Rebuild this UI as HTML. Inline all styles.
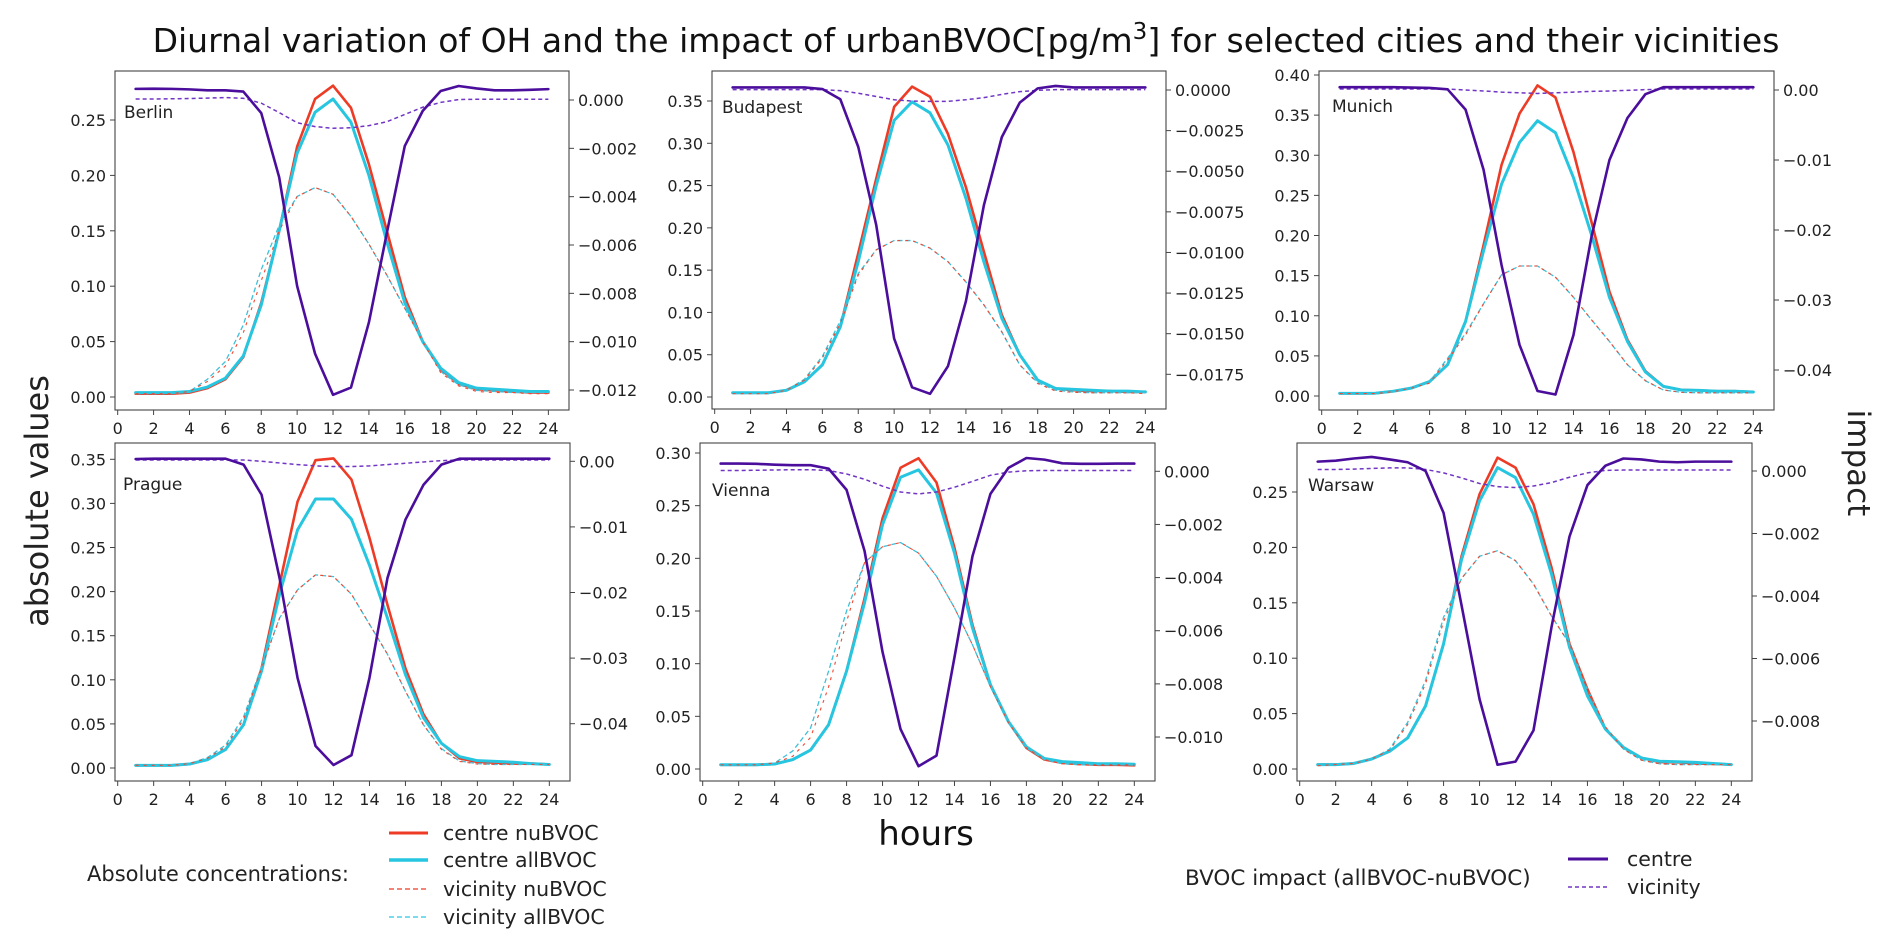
<!DOCTYPE html>
<html><head><meta charset="utf-8">
<style>
html,body{margin:0;padding:0;background:#fff;}
svg{display:block;font-family:"DejaVu Sans","Liberation Sans",sans-serif;}
</style></head>
<body>
<svg id="fig" width="1892" height="946" viewBox="0 0 1892 946" xmlns="http://www.w3.org/2000/svg">
<rect width="1892" height="946" fill="#fff"/>
<text x="966" y="52" font-size="33" text-anchor="middle" fill="#111">Diurnal variation of OH and the impact of urbanBVOC[pg/m<tspan font-size="23" dy="-13">3</tspan><tspan dy="13">]</tspan> for selected cities and their vicinities</text>
<text x="0" y="0" font-size="32" text-anchor="middle" fill="#222" transform="translate(48,501) rotate(-90)">absolute values</text>
<text x="0" y="0" font-size="31" text-anchor="middle" fill="#222" transform="translate(1848,463) rotate(90)">impact</text>
<text x="926" y="845" font-size="34" text-anchor="middle" fill="#111">hours</text>
<g id="panels"></g>
<g>
<text x="87" y="881" font-size="21" fill="#222">Absolute concentrations:</text>
<line x1="389" y1="833" x2="428" y2="833" stroke="#ee3b26" stroke-width="3"/>
<text x="443" y="840" font-size="20.5" fill="#222">centre nuBVOC</text>
<line x1="389" y1="860" x2="428" y2="860" stroke="#27c6e0" stroke-width="3.5"/>
<text x="443" y="867" font-size="20.5" fill="#222">centre allBVOC</text>
<line x1="389" y1="889" x2="428" y2="889" stroke="#ee3b26" stroke-width="1.3" stroke-dasharray="5,3"/>
<text x="443" y="896" font-size="20.5" fill="#222">vicinity nuBVOC</text>
<line x1="389" y1="917" x2="428" y2="917" stroke="#27c6e0" stroke-width="1.3" stroke-dasharray="5,3"/>
<text x="443" y="924" font-size="20.5" fill="#222">vicinity allBVOC</text>
</g>
<g>
<text x="1185" y="885" font-size="21.5" fill="#222">BVOC impact (allBVOC-nuBVOC)</text>
<line x1="1568" y1="859" x2="1608" y2="859" stroke="#4b0e9c" stroke-width="3"/>
<text x="1627" y="866" font-size="20.5" fill="#222">centre</text>
<line x1="1568" y1="887" x2="1608" y2="887" stroke="#7035c4" stroke-width="1.6" stroke-dasharray="4,3"/>
<text x="1627" y="894" font-size="20.5" fill="#222">vicinity</text>
</g>
</svg>
<script>
const hours=[1,2,3,4,5,6,7,8,9,10,11,12,13,14,15,16,17,18,19,20,21,22,23,24];
const xTicks=[0,2,4,6,8,10,12,14,16,18,20,22,24];

const berlinCentreNu=[0.003,0.003,0.003,0.004,0.008,0.016,0.036,0.085,0.15,0.226,0.269,0.281,0.261,0.21,0.15,0.09,0.05,0.025,0.012,0.007,0.006,0.005,0.004,0.004];
const berlinCentreAll=[0.004,0.004,0.004,0.005,0.009,0.017,0.037,0.083,0.15,0.22,0.257,0.269,0.248,0.2,0.14,0.085,0.05,0.026,0.013,0.008,0.007,0.006,0.005,0.005];
const berlinVicNu=[0.003,0.003,0.003,0.005,0.014,0.028,0.058,0.105,0.15,0.181,0.189,0.183,0.163,0.138,0.11,0.08,0.05,0.022,0.01,0.005,0.004,0.004,0.003,0.003];
const berlinVicAll=[0.003,0.003,0.003,0.005,0.016,0.032,0.065,0.115,0.155,0.181,0.189,0.183,0.163,0.138,0.11,0.08,0.05,0.023,0.011,0.006,0.005,0.004,0.004,0.004];
const berlinImpC=[0.00046,0.00047,0.00046,0.00044,0.0004,0.0004,0.00035,-0.00054,-0.0032,-0.0077,-0.0105,-0.0122,-0.0119,-0.0092,-0.0055,-0.0019,-0.00045,0.00037,0.00058,0.00048,0.0004,0.0004,0.00042,0.00045];
const berlinImpV=[0.00004,0.00004,0.00005,0.00006,0.00008,0.0001,0.00007,-0.00013,-0.00052,-0.00094,-0.0011,-0.00117,-0.00115,-0.00106,-0.0009,-0.0006,-0.0003,-0.0001,0.00002,0.00003,0.00003,0.00003,0.00003,0.00003];
const berlinLeftTicks=[0,0.05,0.1,0.15,0.2,0.25];
const berlinRightTicks=[0,-0.002,-0.004,-0.006,-0.008,-0.01,-0.012];

const budapestCentreNu=[0.005,0.005,0.005,0.008,0.018,0.038,0.083,0.17,0.258,0.343,0.367,0.355,0.311,0.248,0.172,0.097,0.05,0.02,0.01,0.008,0.007,0.007,0.006,0.006];
const budapestCentreAll=[0.005,0.005,0.005,0.008,0.018,0.038,0.083,0.16,0.25,0.327,0.349,0.336,0.298,0.235,0.16,0.093,0.05,0.02,0.01,0.009,0.008,0.007,0.007,0.006];
const budapestVicNu=[0.004,0.004,0.004,0.008,0.02,0.046,0.087,0.144,0.174,0.185,0.185,0.176,0.16,0.136,0.109,0.077,0.038,0.016,0.007,0.0055,0.005,0.005,0.005,0.004];
const budapestVicAll=[0.004,0.004,0.004,0.008,0.021,0.048,0.09,0.146,0.174,0.185,0.185,0.176,0.16,0.136,0.109,0.077,0.038,0.017,0.008,0.006,0.005,0.005,0.005,0.005];
const budapestImpC=[0.00016,0.00016,0.00016,0.00016,0.00016,0.00006,-0.00057,-0.0035,-0.0083,-0.0153,-0.0183,-0.0187,-0.017,-0.013,-0.0071,-0.0029,-0.00078,0.0001,0.00025,0.00016,0.00016,0.00016,0.00016,0.00016];
const budapestImpV=[0.00002,0.00002,0.00002,0.00002,0.00002,0.00002,-0.00004,-0.0002,-0.0004,-0.0006,-0.00068,-0.0007,-0.0007,-0.0006,-0.00047,-0.00027,-0.0001,-0.00002,0.00002,0.00002,0.00002,0.00002,0.00002,0.00002];
const budapestLeftTicks=[0,0.05,0.1,0.15,0.2,0.25,0.3,0.35];
const budapestRightTicks=[0,-0.0025,-0.005,-0.0075,-0.01,-0.0125,-0.015,-0.0175];

const munichCentreNu=[0.0033,0.0033,0.0035,0.006,0.01,0.018,0.039,0.093,0.188,0.288,0.352,0.387,0.372,0.304,0.217,0.13,0.07,0.031,0.012,0.0075,0.007,0.006,0.006,0.005];
const munichCentreAll=[0.0033,0.0033,0.0035,0.006,0.01,0.018,0.039,0.093,0.181,0.264,0.316,0.343,0.328,0.272,0.201,0.123,0.068,0.03,0.012,0.0075,0.007,0.006,0.006,0.005];
const munichVicNu=[0.003,0.003,0.003,0.0055,0.01,0.016,0.045,0.076,0.115,0.151,0.162,0.162,0.148,0.123,0.095,0.068,0.039,0.019,0.0075,0.0046,0.004,0.004,0.004,0.004];
const munichVicAll=[0.003,0.003,0.003,0.0055,0.011,0.018,0.047,0.078,0.115,0.151,0.162,0.162,0.148,0.123,0.095,0.068,0.039,0.019,0.0075,0.0046,0.004,0.004,0.004,0.004];
const munichImpC=[0.0004,0.0004,0.0004,0.0004,0.00035,0.0003,0.0001,-0.0028,-0.0114,-0.025,-0.0364,-0.043,-0.0435,-0.035,-0.021,-0.01,-0.004,-0.0006,0.0004,0.0004,0.0004,0.0004,0.0004,0.0004];
const munichImpV=[0.00014,0.00014,0.00014,0.00014,0.00014,0.00014,0.00014,0,-0.00014,-0.0003,-0.0004,-0.0005,-0.0004,-0.0003,-0.0002,-0.00014,-0.00005,0.00005,0.00014,0.00014,0.00014,0.00014,0.00014,0.00014];
const munichLeftTicks=[0,0.05,0.1,0.15,0.2,0.25,0.3,0.35,0.4];
const munichRightTicks=[0,-0.01,-0.02,-0.03,-0.04];

const pragueCentreNu=[0.003,0.003,0.003,0.0045,0.0095,0.021,0.049,0.113,0.208,0.302,0.349,0.351,0.327,0.261,0.185,0.113,0.061,0.028,0.011,0.0068,0.006,0.005,0.005,0.004];
const pragueCentreAll=[0.003,0.003,0.003,0.0045,0.0095,0.021,0.049,0.11,0.197,0.27,0.305,0.305,0.282,0.23,0.17,0.106,0.057,0.028,0.013,0.0083,0.0075,0.0065,0.005,0.004];
const pragueVicNu=[0.003,0.003,0.003,0.005,0.011,0.024,0.055,0.113,0.17,0.202,0.219,0.217,0.197,0.163,0.129,0.087,0.049,0.021,0.0075,0.0045,0.004,0.004,0.004,0.004];
const pragueVicAll=[0.003,0.003,0.003,0.005,0.012,0.026,0.058,0.115,0.17,0.202,0.219,0.217,0.197,0.163,0.129,0.087,0.049,0.022,0.008,0.005,0.004,0.004,0.004,0.004];
const pragueImpC=[0.00035,0.0004,0.0004,0.0004,0.0004,0.0004,-0.0005,-0.0051,-0.0178,-0.033,-0.0434,-0.0463,-0.0448,-0.033,-0.0178,-0.0089,-0.0036,-0.0005,0.0004,0.0004,0.0004,0.0004,0.0004,0.0004];
const pragueImpV=[0.0002,0.0002,0.0002,0.0002,0.0002,0.0002,0.0002,0,-0.00025,-0.0005,-0.0007,-0.0008,-0.0008,-0.0007,-0.0005,-0.0003,-0.0001,0.0001,0.0002,0.0002,0.0002,0.0002,0.0002,0.0002];
const pragueLeftTicks=[0,0.05,0.1,0.15,0.2,0.25,0.3,0.35];
const pragueRightTicks=[0,-0.01,-0.02,-0.03,-0.04];

const viennaCentreNu=[0.004,0.004,0.004,0.0047,0.0089,0.018,0.042,0.093,0.162,0.238,0.286,0.295,0.272,0.21,0.137,0.08,0.045,0.02,0.009,0.0057,0.0047,0.004,0.004,0.0035];
const viennaCentreAll=[0.004,0.004,0.004,0.0047,0.0089,0.018,0.042,0.093,0.158,0.232,0.277,0.284,0.262,0.205,0.134,0.08,0.045,0.021,0.01,0.007,0.006,0.005,0.005,0.0045];
const viennaVicNu=[0.004,0.004,0.004,0.0057,0.012,0.03,0.078,0.14,0.196,0.211,0.215,0.205,0.183,0.153,0.118,0.078,0.044,0.02,0.009,0.005,0.004,0.004,0.004,0.004];
const viennaVicAll=[0.004,0.004,0.004,0.0057,0.017,0.039,0.093,0.15,0.196,0.211,0.215,0.205,0.183,0.153,0.118,0.078,0.044,0.021,0.009,0.005,0.004,0.004,0.004,0.004];
const viennaImpC=[0.00029,0.00029,0.00028,0.00025,0.00023,0.00023,0.0001,-0.0007,-0.003,-0.0068,-0.0097,-0.0111,-0.0107,-0.007,-0.0032,-0.00085,0.00013,0.0005,0.00044,0.0003,0.00028,0.00028,0.00029,0.00029];
const viennaImpV=[0.00003,0.00003,0.00004,0.00005,0.00006,0.00006,0.00003,-0.0001,-0.0003,-0.00056,-0.00078,-0.00085,-0.00078,-0.0006,-0.00038,-0.00015,-0.00003,0.00002,0.00003,0.00003,0.00003,0.00003,0.00003,0.00003];
const viennaLeftTicks=[0,0.05,0.1,0.15,0.2,0.25,0.3];
const viennaRightTicks=[0,-0.002,-0.004,-0.006,-0.008,-0.01];

const warsawCentreNu=[0.004,0.004,0.005,0.009,0.016,0.028,0.057,0.113,0.192,0.248,0.281,0.272,0.239,0.182,0.113,0.072,0.036,0.0195,0.01,0.0063,0.006,0.005,0.0045,0.004];
const warsawCentreAll=[0.004,0.004,0.005,0.009,0.016,0.028,0.057,0.113,0.189,0.242,0.272,0.263,0.23,0.176,0.11,0.066,0.036,0.0195,0.01,0.007,0.0065,0.006,0.005,0.004];
const warsawVicNu=[0.003,0.004,0.005,0.009,0.017,0.04,0.077,0.133,0.172,0.192,0.197,0.188,0.167,0.138,0.113,0.072,0.038,0.018,0.008,0.0047,0.004,0.004,0.004,0.004];
const warsawVicAll=[0.003,0.004,0.005,0.009,0.018,0.042,0.08,0.137,0.172,0.192,0.197,0.188,0.167,0.138,0.113,0.072,0.038,0.018,0.008,0.0047,0.004,0.004,0.004,0.004];
const warsawImpC=[0.0003,0.00033,0.0004,0.00045,0.00037,0.00028,0,-0.00134,-0.0043,-0.0073,-0.0094,-0.0093,-0.0083,-0.005,-0.0021,-0.00045,0.00017,0.0004,0.00037,0.0003,0.00028,0.0003,0.0003,0.0003];
const warsawImpV=[0.00005,0.00005,0.00006,0.00008,0.0001,0.0001,0.00005,-0.00006,-0.00022,-0.0004,-0.0005,-0.00053,-0.00048,-0.00037,-0.0002,-0.00006,0.00002,0.00003,0.00003,0.00003,0.00003,0.00003,0.00003,0.00003];
const warsawLeftTicks=[0,0.05,0.1,0.15,0.2,0.25];
const warsawRightTicks=[0,-0.002,-0.004,-0.006,-0.008];

const NS='http://www.w3.org/2000/svg';
const root=document.getElementById('panels');
function mk(tag,attrs,parent){const e=document.createElementNS(NS,tag);for(const k in attrs)e.setAttribute(k,attrs[k]);parent.appendChild(e);return e;}
function fmt(v,d){const s=Math.abs(v).toFixed(d);return (v<-1e-12?'\u2212':'')+s;}

const panels=[
 {key:'berlin',name:'Berlin',x0:115,x1:569,y0:71,y1:410,L:[0,397,0.25,120],R:[0,100,-0.012,390],ld:2,rd:3,lab:[124,118],
  cn:berlinCentreNu,ca:berlinCentreAll,vn:berlinVicNu,va:berlinVicAll,ic:berlinImpC,iv:berlinImpV,lt:berlinLeftTicks,rt:berlinRightTicks},
 {key:'budapest',name:'Budapest',x0:712,x1:1166,y0:71,y1:409,L:[0,397,0.35,101],R:[0,90,-0.0175,374.3],ld:2,rd:4,lab:[722,113],
  cn:budapestCentreNu,ca:budapestCentreAll,vn:budapestVicNu,va:budapestVicAll,ic:budapestImpC,iv:budapestImpV,lt:budapestLeftTicks,rt:budapestRightTicks},
 {key:'munich',name:'Munich',x0:1319,x1:1774,y0:71,y1:410,L:[0,396,0.4,75],R:[0,90,-0.04,370],ld:2,rd:2,lab:[1332,112],
  cn:munichCentreNu,ca:munichCentreAll,vn:munichVicNu,va:munichVicAll,ic:munichImpC,iv:munichImpV,lt:munichLeftTicks,rt:munichRightTicks},
 {key:'prague',name:'Prague',x0:115,x1:570,y0:443,y1:781,L:[0,768,0.35,459.3],R:[0,461.3,-0.04,723.7],ld:2,rd:2,lab:[123,490],
  cn:pragueCentreNu,ca:pragueCentreAll,vn:pragueVicNu,va:pragueVicAll,ic:pragueImpC,iv:pragueImpV,lt:pragueLeftTicks,rt:pragueRightTicks},
 {key:'vienna',name:'Vienna',x0:700,x1:1155,y0:443,y1:781,L:[0,769,0.3,453],R:[0,471.3,-0.01,737],ld:2,rd:3,lab:[712,496],
  cn:viennaCentreNu,ca:viennaCentreAll,vn:viennaVicNu,va:viennaVicAll,ic:viennaImpC,iv:viennaImpV,lt:viennaLeftTicks,rt:viennaRightTicks},
 {key:'warsaw',name:'Warsaw',x0:1297,x1:1752,y0:443,y1:781,L:[0,769,0.25,492],R:[0,471,-0.008,721],ld:2,rd:3,lab:[1308,491],
  cn:warsawCentreNu,ca:warsawCentreAll,vn:warsawVicNu,va:warsawVicAll,ic:warsawImpC,iv:warsawImpV,lt:warsawLeftTicks,rt:warsawRightTicks}
];

panels.forEach(p=>{
  const g=mk('g',{},root);
  
  
  const xs=h=>p.x0+(p.x1-p.x0)*(h+0.15)/25.3;
  const yl=v=>p.L[1]+(v-p.L[0])*(p.L[3]-p.L[1])/(p.L[2]-p.L[0]);
  const yr=v=>p.R[1]+(v-p.R[0])*(p.R[3]-p.R[1])/(p.R[2]-p.R[0]);
  const clipId='clip-'+p.key;
  const cp=mk('clipPath',{id:clipId},g);
  mk('rect',{x:p.x0,y:p.y0,width:p.x1-p.x0,height:p.y1-p.y0},cp);
  const plot=mk('g',{'clip-path':'url(#'+clipId+')'},g);
  function series(arr,ys,stroke,w,dash,name){
    const pts=hours.map((h,i)=>xs(h).toFixed(2)+','+ys(arr[i]).toFixed(2)).join(' ');
    const a={points:pts,fill:'none',stroke:stroke,'stroke-width':w,'stroke-linejoin':'round','stroke-linecap':dash?'butt':'round'};
    if(dash)a['stroke-dasharray']=dash;
    const e=mk('polyline',a,plot);
    
    
  }
  series(p.cn,yl,'#ee3b26',2.6,null,p.key+'-centre-nubvoc-line');
  series(p.ca,yl,'#27c6e0',3,null,p.key+'-centre-allbvoc-line');
  series(p.va,yl,'#3fbfd8',1.3,'5,3',p.key+'-vicinity-allbvoc-line');
  series(p.vn,yl,'#ee4a33',1.1,'3,5',p.key+'-vicinity-nubvoc-line');
  series(p.iv,yr,'#7035c4',1.5,'4,3',p.key+'-impact-vicinity-line');
  series(p.ic,yr,'#4b0e9c',2.6,null,p.key+'-impact-centre-line');
  const fr=mk('rect',{x:p.x0,y:p.y0,width:p.x1-p.x0,height:p.y1-p.y0,fill:'none',stroke:'#444','stroke-width':1.1},g);
  
  
  const lab=mk('text',{x:p.lab[0],y:p.lab[1],'font-size':17,fill:'#222'},g);
  lab.textContent=p.name;
  
  
  xTicks.forEach(t=>{
    const x=xs(t);
    mk('line',{x1:x,y1:p.y1,x2:x,y2:p.y1+5,stroke:'#444','stroke-width':1},g);
    const tx=mk('text',{x:x,y:p.y1+24,'font-size':16,'text-anchor':'middle',fill:'#222'},g);
    tx.textContent=String(t);
    
    
  });
  p.lt.forEach(t=>{
    const y=yl(t);
    mk('line',{x1:p.x0-5,y1:y,x2:p.x0,y2:y,stroke:'#444','stroke-width':1},g);
    const tx=mk('text',{x:p.x0-9,y:y+6,'font-size':16,'text-anchor':'end',fill:'#222'},g);
    tx.textContent=fmt(t,p.ld);
    
    
  });
  p.rt.forEach(t=>{
    const y=yr(t);
    mk('line',{x1:p.x1,y1:y,x2:p.x1+5,y2:y,stroke:'#444','stroke-width':1},g);
    const tx=mk('text',{x:p.x1+9,y:y+6,'font-size':16,'text-anchor':'start',fill:'#222'},g);
    tx.textContent=fmt(t,p.rd);
    
    
  });
});
</script>
</body></html>
